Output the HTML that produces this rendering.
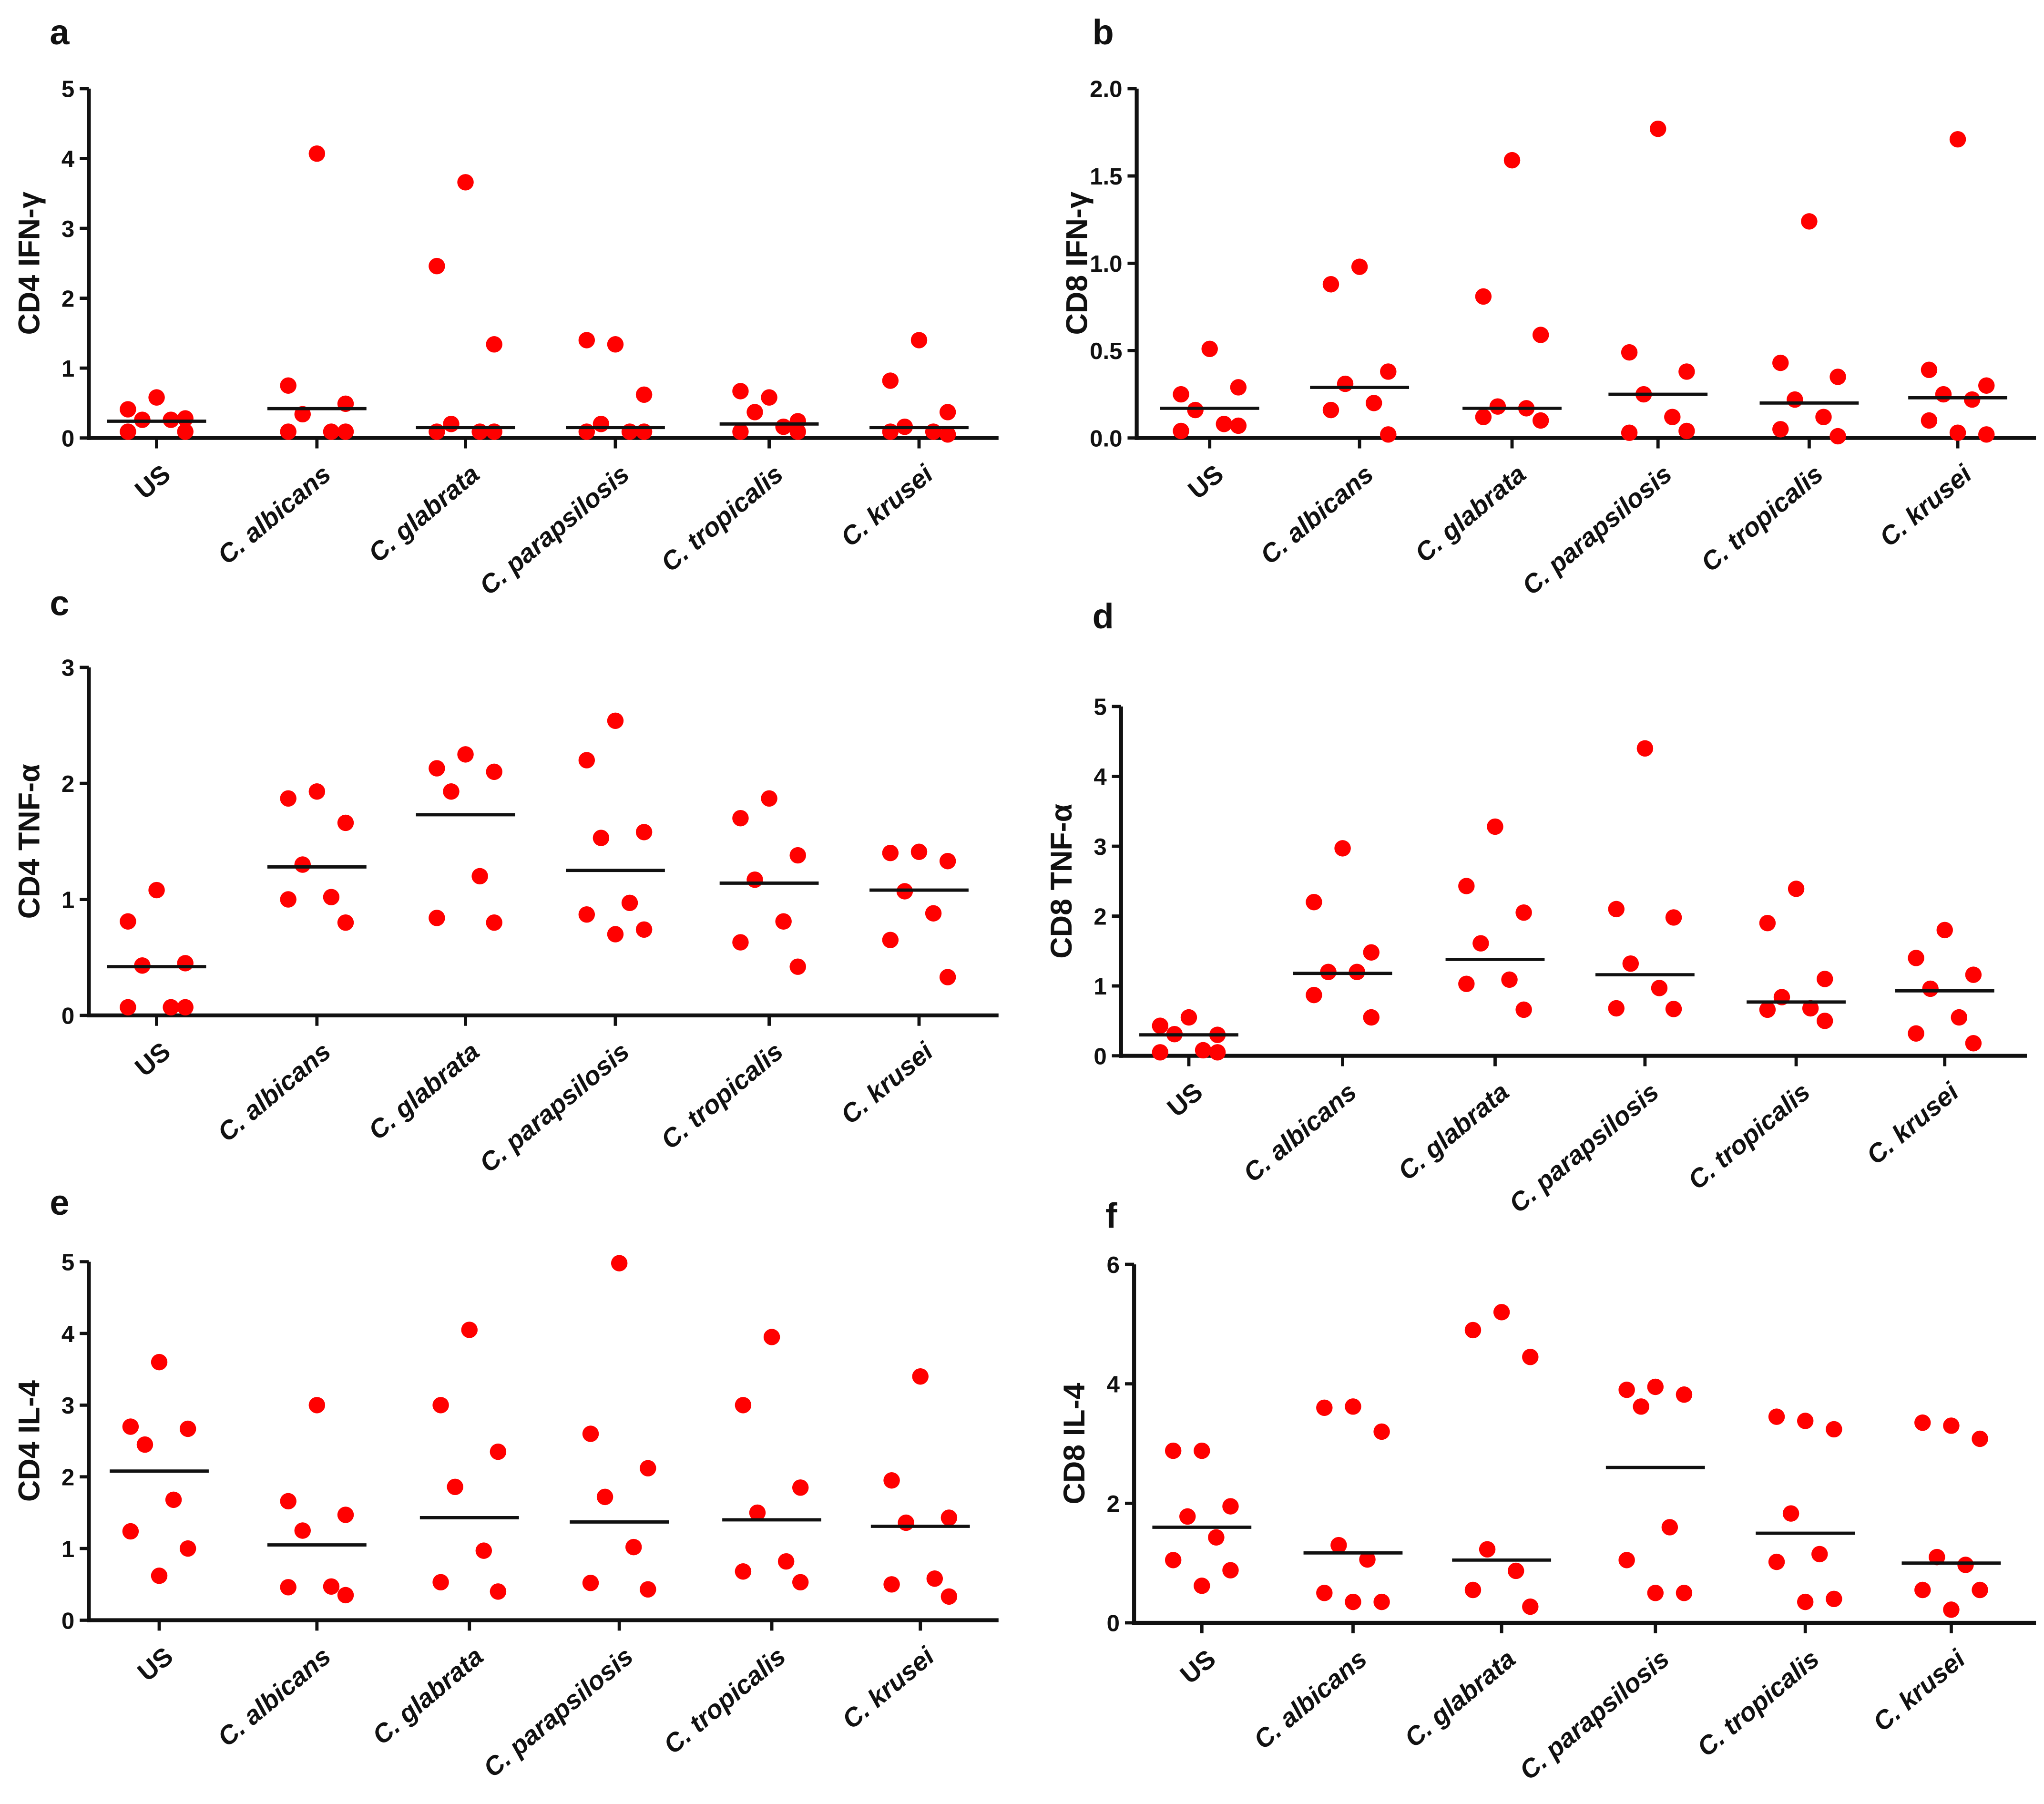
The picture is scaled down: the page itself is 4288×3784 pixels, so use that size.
<!DOCTYPE html>
<html><head><meta charset="utf-8">
<style>
html,body{margin:0;padding:0;background:#fff;}
svg{display:block;}
text{font-family:"Liberation Sans",Arial,sans-serif;font-weight:bold;fill:#111;}
</style></head>
<body>
<svg id="fig" width="4288" height="3784" viewBox="0 0 1568 1384" xmlns="http://www.w3.org/2000/svg"></svg>
<script>
const categories = ["US","C. albicans","C. glabrata","C. parapsilosis","C. tropicalis","C. krusei"];

const aValues = [[0.58,0.41,0.28,0.26,0.26,0.09,0.09],[4.07,0.75,0.49,0.34,0.09,0.09,0.09],[3.66,2.46,1.34,0.2,0.09,0.09,0.09],[1.34,1.4,0.62,0.2,0.09,0.09,0.09],[0.58,0.67,0.24,0.37,0.16,0.09,0.09],[1.4,0.82,0.37,0.16,0.09,0.09,0.05]];
const aMeans = [0.24,0.42,0.15,0.15,0.2,0.15];
const aTicks = ["0","1","2","3","4","5"];

const bValues = [[0.51,0.25,0.29,0.16,0.08,0.04,0.07],[0.98,0.88,0.38,0.31,0.2,0.16,0.02],[1.59,0.81,0.59,0.18,0.17,0.12,0.1],[1.77,0.49,0.38,0.25,0.12,0.03,0.04],[1.24,0.43,0.35,0.22,0.12,0.05,0.01],[1.71,0.39,0.3,0.25,0.22,0.1,0.02,0.03]];
const bMeans = [0.17,0.29,0.17,0.25,0.2,0.23];
const bTicks = ["0.0","0.5","1.0","1.5","2.0"];

const cValues = [[1.08,0.81,0.45,0.43,0.07,0.07,0.07],[1.93,1.87,1.66,1.3,1.02,1.0,0.8],[2.25,2.13,2.1,1.93,1.2,0.84,0.8],[2.54,2.2,1.58,1.53,0.97,0.87,0.74,0.7],[1.87,1.7,1.38,1.17,0.81,0.63,0.42],[1.41,1.4,1.33,1.07,0.88,0.65,0.33]];
const cMeans = [0.42,1.28,1.73,1.25,1.14,1.08];
const cTicks = ["0","1","2","3"];

const dValues = [[0.55,0.43,0.3,0.31,0.08,0.05,0.05],[2.97,2.2,1.48,1.2,1.2,0.87,0.55],[3.28,2.43,2.05,1.61,1.09,1.03,0.66],[4.4,2.1,1.98,1.32,0.97,0.68,0.67],[2.39,1.9,1.1,0.84,0.68,0.66,0.5],[1.8,1.4,1.16,0.96,0.55,0.32,0.18]];
const dMeans = [0.3,1.18,1.38,1.16,0.77,0.93];
const dTicks = ["0","1","2","3","4","5"];

const eValues = [[3.6,2.7,2.67,2.45,1.68,1.24,1.0,0.62],[3.0,1.66,1.47,1.25,0.47,0.46,0.35],[4.05,3.0,2.35,1.86,0.97,0.53,0.4],[4.98,2.6,2.12,1.72,1.02,0.52,0.43],[3.95,3.0,1.85,1.5,0.82,0.68,0.53],[3.4,1.95,1.43,1.36,0.58,0.5,0.33]];
const eMeans = [2.08,1.05,1.43,1.37,1.4,1.31];
const eTicks = ["0","1","2","3","4","5"];

const fValues = [[2.88,2.88,1.95,1.78,1.43,1.05,0.88,0.62],[3.62,3.6,3.2,1.3,1.06,0.5,0.35,0.35],[5.2,4.9,4.45,1.23,0.87,0.55,0.27],[3.95,3.9,3.82,3.62,1.6,1.05,0.5,0.5],[3.38,3.45,3.24,1.83,1.15,1.02,0.4,0.35],[3.3,3.35,3.08,1.1,0.97,0.55,0.55,0.22]];
const fMeans = [1.6,1.17,1.05,2.6,1.5,1.0];
const fTicks = ["0","2","4","6"];

const NS="http://www.w3.org/2000/svg";
const svg=document.getElementById('fig');
function mk(tag,attrs,parent){const e=document.createElementNS(NS,tag);for(const k in attrs)e.setAttribute(k,attrs[k]);(parent||svg).appendChild(e);return e;}
const jit=[0,-1,1,-0.5,0.5,-1,1,0];

function panel(cfg){
  const g=mk('g',{});
  
  
  const ymax=cfg.max;
  const y=v=>cfg.y0-(v/ymax)*(cfg.y0-cfg.y1);
  const x=i=>cfg.cx[i];
  const lt=mk('text',{x:cfg.lx,y:cfg.ly,'font-size':27},g);lt.textContent=cfg.letter;
  
  
  const ya=mk('line',{x1:cfg.x0,y1:cfg.y1,x2:cfg.x0,y2:cfg.y0+1.5,stroke:'#111','stroke-width':3},g);
  
  
  const n=cfg.ticks.length;
  cfg.ticks.forEach((t,i)=>{
    const v=ymax*i/(n-1);const yy=y(v);
    const tk=mk('line',{x1:cfg.x0-7,y1:yy,x2:cfg.x0,y2:yy,stroke:'#111','stroke-width':2.5},g);
    
    
    const tl=mk('text',{x:cfg.x0-11,y:yy+6.5,'font-size':18,'text-anchor':'end'},g);tl.textContent=t;
    
    
  });
  const yt=mk('text',{x:0,y:0,'font-size':23,'text-anchor':'middle',transform:`translate(${cfg.x0-38},${(cfg.y0+cfg.y1)/2}) rotate(-90)`},g);
  yt.textContent=cfg.title;
  
  
  const xa=mk('line',{x1:cfg.x0-1.5,y1:cfg.y0,x2:cfg.xend,y2:cfg.y0,stroke:'#111','stroke-width':3},g);
  
  
  categories.forEach((c,i)=>{
    const xt=mk('line',{x1:x(i),y1:cfg.y0,x2:x(i),y2:cfg.y0+8,stroke:'#111','stroke-width':2.5},g);
    
    
    const tl=mk('text',{'font-size':20,'text-anchor':'end','font-style':c==='US'?'normal':'italic',transform:`translate(${x(i)+12},${cfg.y0+30}) rotate(-40)`},g);
    tl.textContent=c;
    
    
  });
  cfg.values.forEach((arr,i)=>{
    arr.forEach((v,j)=>{
      const d=mk('circle',{cx:x(i)+jit[j%jit.length]*cfg.spread,cy:y(v),r:6.3,fill:'#f00'},g);
      
      
    });
    const m=mk('line',{x1:x(i)-38,x2:x(i)+38,y1:y(cfg.means[i]),y2:y(cfg.means[i]),stroke:'#111','stroke-width':2.5},g);
    
    
  });
}
const cxL=[120,243,357,472,590,705];
panel({letter:'a',lx:38,ly:34,x0:68,y0:336,y1:68,xend:766,max:5,cx:cxL,spread:22,values:aValues,means:aMeans,ticks:aTicks,title:'CD4 IFN-γ'});
panel({letter:'b',lx:838,ly:34,x0:872,y0:336,y1:68,xend:1562,max:2,cx:[928,1043,1160,1272,1388,1502],spread:22,values:bValues,means:bMeans,ticks:bTicks,title:'CD8 IFN-γ'});
panel({letter:'c',lx:38,ly:472,x0:68,y0:779,y1:512,xend:766,max:3,cx:cxL,spread:22,values:cValues,means:cMeans,ticks:cTicks,title:'CD4 TNF-α'});
panel({letter:'d',lx:838,ly:482,x0:860,y0:810,y1:542,xend:1555,max:5,cx:[912,1030,1147,1262,1378,1492],spread:22,values:dValues,means:dMeans,ticks:dTicks,title:'CD8 TNF-α'});
panel({letter:'e',lx:38,ly:932,x0:68,y0:1243,y1:968,xend:766,max:5,cx:[122,243,360,475,592,706],spread:22,values:eValues,means:eMeans,ticks:eTicks,title:'CD4 IL-4'});
panel({letter:'f',lx:848,ly:942,x0:870,y0:1245,y1:970,xend:1562,max:6,cx:[922,1038,1152,1270,1385,1497],spread:22,values:fValues,means:fMeans,ticks:fTicks,title:'CD8 IL-4'});
</script>
</body></html>
